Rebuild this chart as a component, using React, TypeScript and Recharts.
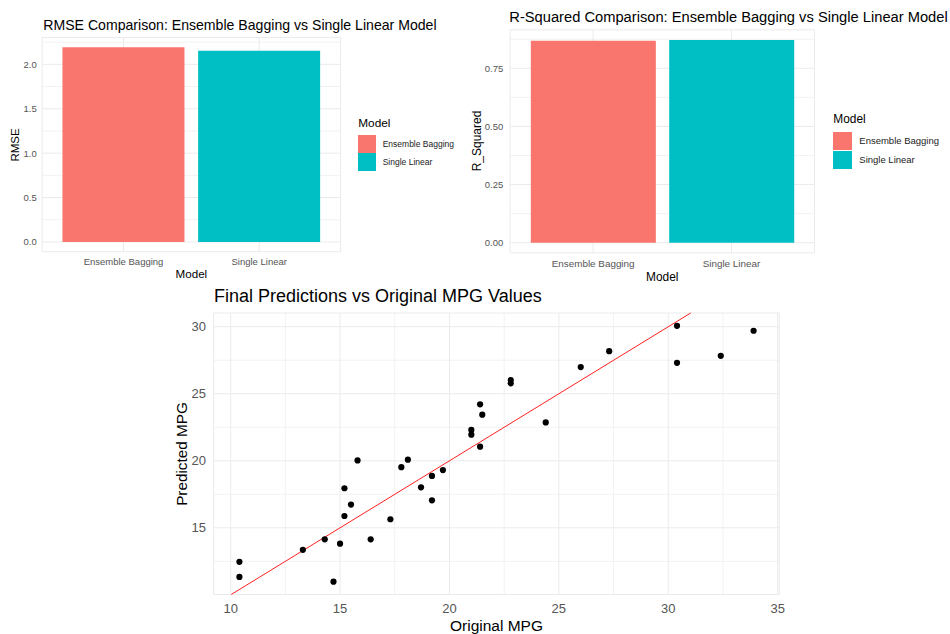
import React from 'react';
import {
  BarChart,
  Bar,
  Cell,
  XAxis,
  YAxis,
  CartesianGrid,
  ScatterChart,
  Scatter,
  ReferenceLine,
} from 'recharts';

// ---------- data ----------
const models = ['Ensemble Bagging', 'Single Linear'];
const modelColors = ['#F8766D', '#00BFC4'];
const rmseValues = [2.193, 2.154];
const rSquaredValues = [0.869, 0.872];

const rmseTicks = [0, 0.5, 1, 1.5, 2];
const rmseMinorTicks = [0.25, 0.75, 1.25, 1.75, 2.25];
const r2Ticks = [0, 0.25, 0.5, 0.75];
const r2MinorTicks = [0.125, 0.375, 0.625, 0.875];

const originalMpg = [
  10.4, 10.4, 13.3, 14.3, 14.7, 15.0, 15.2, 15.2, 15.5, 15.8, 16.4, 17.3, 17.8, 18.1, 18.7, 19.2,
  19.2, 19.7, 21.0, 21.0, 21.4, 21.4, 21.5, 22.8, 22.8, 24.4, 26.0, 27.3, 30.4, 30.4, 32.4, 33.9,
];
const predictedMpg = [
  12.46, 11.34, 13.36, 14.14, 10.98, 13.82, 17.95, 15.88, 16.73, 20.03, 14.14, 15.64, 19.52, 20.08,
  18.02, 18.87, 17.05, 19.31, 22.3, 21.95, 24.21, 21.05, 23.44, 26.02, 25.78, 22.86, 26.99, 28.18,
  30.07, 27.31, 27.83, 29.7,
];
const mpgXTicks = [10, 15, 20, 25, 30, 35];
const mpgXMinorTicks = [12.5, 17.5, 22.5, 27.5, 32.5];
const mpgYTicks = [15, 20, 25, 30];
const mpgYMinorTicks = [12.5, 17.5, 22.5, 27.5];

// ---------- derived tables ----------
const rmseData = models.map((m, i) => ({ model: m, value: rmseValues[i] }));
const r2Data = models.map((m, i) => ({ model: m, value: rSquaredValues[i] }));
const mpgData = originalMpg.map((x, i) => ({ x, y: predictedMpg[i] }));

const barDomain = (vals: number[]): [number, number] => {
  const mx = Math.max(...vals);
  return [-0.05 * mx, 1.05 * mx];
};
const contDomain = (vals: number[]): [number, number] => {
  const mn = Math.min(...vals);
  const mx = Math.max(...vals);
  const r = mx - mn;
  return [mn - 0.05 * r, mx + 0.05 * r];
};

const rmseDomain = barDomain(rmseValues);
const r2Domain = barDomain(rSquaredValues);
const xDomain = contDomain(originalMpg);
const yDomain = contDomain(predictedMpg);
const lineLo = Math.max(xDomain[0], yDomain[0]);
const lineHi = Math.min(xDomain[1], yDomain[1]);

// ---------- style ----------
const FONT = '"Liberation Sans", Arial, Helvetica, sans-serif';
const TICK_COLOR = '#555555';
const MAJOR = '#EBEBEB';
const MINOR = '#F2F2F2';

type TxtProps = {
  x: number;
  y: number;
  size: number;
  text: string;
  anchor?: 'start' | 'middle';
  rotate?: boolean;
  color?: string;
};

const Txt = ({ x, y, size, text, anchor = 'middle', rotate = false, color = '#000' }: TxtProps) => {
  const tx = anchor === 'middle' ? '-50%' : '0';
  return (
    <div
      style={{
        position: 'absolute',
        left: x,
        top: y,
        fontSize: size,
        lineHeight: 1,
        whiteSpace: 'nowrap',
        color,
        transform: rotate
          ? 'translate(-50%, -50%) rotate(-90deg)'
          : `translate(${tx}, -50%)`,
      }}
    >
      {text}
    </div>
  );
};

type LegendProps = {
  left: number;
  titleY: number;
  titleSize: number;
  keyTops: number[];
  keySize: number;
  labelLeft: number;
  labelSize: number;
};

const ModelLegend = ({ left, titleY, titleSize, keyTops, keySize, labelLeft, labelSize }: LegendProps) => (
  <>
    <Txt x={left} y={titleY} size={titleSize} text="Model" anchor="start" />
    {models.map((m, i) => (
      <React.Fragment key={m}>
        <div
          style={{
            position: 'absolute',
            left,
            top: keyTops[i],
            width: keySize,
            height: keySize,
            background: modelColors[i],
          }}
        />
        <Txt
          x={labelLeft}
          y={keyTops[i] + keySize / 2}
          size={labelSize}
          text={m}
          anchor="start"
          color="#222"
        />
      </React.Fragment>
    ))}
  </>
);

export default function App() {
  return (
    <div
      style={{
        position: 'absolute',
        left: 0,
        top: 0,
        width: 950,
        height: 634,
        background: '#fff',
        overflow: 'hidden',
        fontFamily: FONT,
      }}
    >
      {/* ---------- RMSE chart ---------- */}
      <div style={{ position: 'absolute', left: 0, top: 0 }}>
        <BarChart
          width={475}
          height={280}
          data={rmseData}
          margin={{ top: 37.45, right: 134.4, bottom: 0, left: 0.1 }}
          barCategoryGap="5%"
        >
          <CartesianGrid horizontalValues={rmseMinorTicks} vertical={false} stroke={MINOR} />
          <CartesianGrid stroke={MAJOR} />
          <XAxis
            dataKey="model"
            padding={{ left: 13.57, right: 13.57 }}
            height={28.3}
            axisLine={false}
            tickLine={false}
            tickSize={0}
            tickMargin={6.6}
            interval={0}
            tick={{ fill: TICK_COLOR, fontSize: 9.5 }}
          />
          <YAxis
            type="number"
            domain={rmseDomain}
            ticks={rmseTicks}
            allowDataOverflow
            width={42}
            axisLine={false}
            tickLine={false}
            tickSize={0}
            tickMargin={5.4}
            interval={0}
            tickFormatter={(v: number) => v.toFixed(1)}
            tick={{ fill: TICK_COLOR, fontSize: 9.5 }}
          />
          <Bar dataKey="value" isAnimationActive={false}>
            {rmseData.map((d, i) => (
              <Cell key={d.model} fill={modelColors[i]} />
            ))}
          </Bar>
        </BarChart>
      </div>
      <Txt x={43.3} y={25} size={14.1} text="RMSE Comparison: Ensemble Bagging vs Single Linear Model" anchor="start" />
      <Txt x={15.7} y={144.6} size={11.5} text="RMSE" rotate />
      <Txt x={191.4} y={274.3} size={11.6} text="Model" />
      <ModelLegend
        left={358.3}
        titleY={124}
        titleSize={11.8}
        keyTops={[135, 153.3]}
        keySize={17.7}
        labelLeft={382.7}
        labelSize={8.5}
      />

      {/* ---------- R-Squared chart ---------- */}
      <div style={{ position: 'absolute', left: 475, top: 0 }}>
        <BarChart
          width={475}
          height={280}
          data={r2Data}
          margin={{ top: 29.8, right: 135.5, bottom: 0, left: 0.1 }}
          barCategoryGap="5%"
        >
          <CartesianGrid horizontalValues={r2MinorTicks} vertical={false} stroke={MINOR} />
          <CartesianGrid stroke={MAJOR} />
          <XAxis
            dataKey="model"
            padding={{ left: 13.82, right: 13.82 }}
            height={27.2}
            axisLine={false}
            tickLine={false}
            tickSize={0}
            tickMargin={6.9}
            interval={0}
            tick={{ fill: TICK_COLOR, fontSize: 9.9 }}
          />
          <YAxis
            type="number"
            domain={r2Domain}
            ticks={r2Ticks}
            allowDataOverflow
            width={35}
            axisLine={false}
            tickLine={false}
            tickSize={0}
            tickMargin={6.8}
            interval={0}
            tickFormatter={(v: number) => v.toFixed(2)}
            tick={{ fill: TICK_COLOR, fontSize: 9.5 }}
          />
          <Bar dataKey="value" isAnimationActive={false}>
            {r2Data.map((d, i) => (
              <Cell key={d.model} fill={modelColors[i]} />
            ))}
          </Bar>
        </BarChart>
      </div>
      <Txt x={509.3} y={16.7} size={14.7} text="R-Squared Comparison: Ensemble Bagging vs Single Linear Model" anchor="start" />
      <Txt x={476.7} y={141.3} size={12} text="R_Squared" rotate />
      <Txt x={662.3} y={277.5} size={11.9} text="Model" />
      <ModelLegend
        left={833.3}
        titleY={120}
        titleSize={11.9}
        keyTops={[131.7, 150.7]}
        keySize={18.6}
        labelLeft={859.3}
        labelSize={9.5}
      />

      {/* ---------- Scatter chart ---------- */}
      <div style={{ position: 'absolute', left: 160, top: 280 }}>
        <ScatterChart
          width={640}
          height={354}
          margin={{ top: 33, right: 20.7, bottom: 0, left: 0.7 }}
        >
          <CartesianGrid
            horizontalValues={mpgYMinorTicks}
            verticalValues={mpgXMinorTicks}
            stroke={MINOR}
          />
          <CartesianGrid stroke={MAJOR} />
          <XAxis
            type="number"
            dataKey="x"
            domain={xDomain}
            ticks={mpgXTicks}
            allowDataOverflow
            height={39.5}
            axisLine={false}
            tickLine={false}
            tickSize={0}
            tickMargin={8.8}
            interval={0}
            tick={{ fill: TICK_COLOR, fontSize: 13 }}
          />
          <YAxis
            type="number"
            dataKey="y"
            domain={yDomain}
            ticks={mpgYTicks}
            allowDataOverflow
            width={53}
            axisLine={false}
            tickLine={false}
            tickSize={0}
            tickMargin={7.7}
            interval={0}
            tick={{ fill: TICK_COLOR, fontSize: 13 }}
          />
          <ReferenceLine
            segment={[
              { x: lineLo, y: lineLo },
              { x: lineHi, y: lineHi },
            ]}
            stroke="#FF2020"
            strokeWidth={1}
            ifOverflow="visible"
          />
          <Scatter
            data={mpgData}
            isAnimationActive={false}
            shape={(p: any) => <circle cx={p.cx} cy={p.cy} r={3.1} fill="#000" />}
          />
        </ScatterChart>
      </div>
      <Txt x={214} y={296.3} size={18} text="Final Predictions vs Original MPG Values" anchor="start" />
      <Txt x={182.4} y={453.75} size={15.3} text="Predicted MPG" rotate />
      <Txt x={496.5} y={625.5} size={15.5} text="Original MPG" />
    </div>
  );
}
